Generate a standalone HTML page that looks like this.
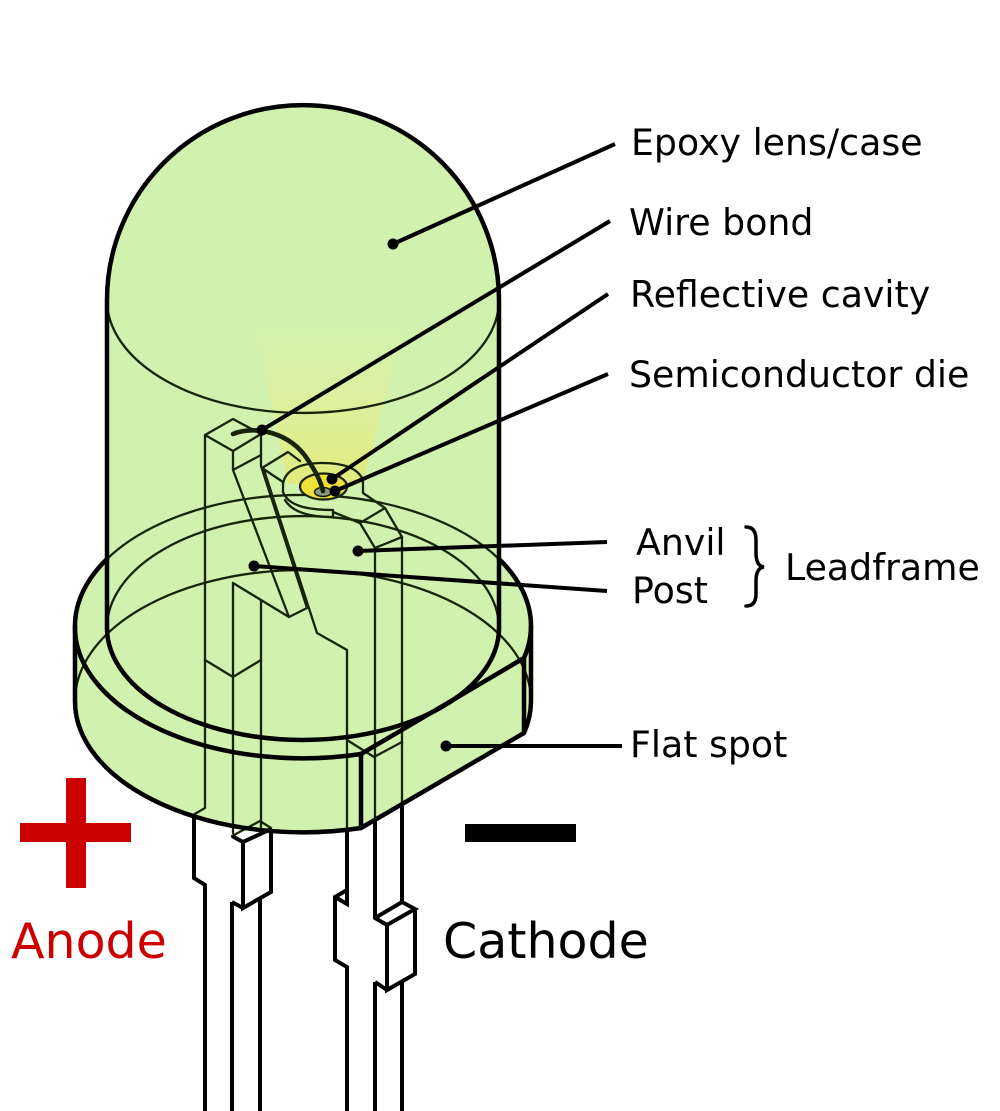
<!DOCTYPE html>
<html>
<head>
<meta charset="utf-8">
<style>
html,body{margin:0;padding:0;background:#fff;}
svg{display:block;}
text{font-family:"DejaVu Sans","Liberation Sans",sans-serif;}
</style>
</head>
<body>
<svg width="1000" height="1111" viewBox="0 0 1000 1111" xmlns="http://www.w3.org/2000/svg">
<defs>
<linearGradient id="glow" x1="0" y1="0" x2="0" y2="1">
<stop offset="0" stop-color="#e8f0a0" stop-opacity="0"/>
<stop offset="0.5" stop-color="#e4ee92" stop-opacity="0.6"/>
<stop offset="1" stop-color="#e2ea78" stop-opacity="0.95"/>
</linearGradient>
</defs>
<rect width="1000" height="1111" fill="#fff"/>

<!-- epoxy body fill -->
<path d="M107,300 A196,195 0 0 1 499,300 L499,559 A228,131 0 0 1 531,626 L531,701 A228,131 0 0 1 524,733 L361,828 A228,131 0 0 1 75,701 L75,626 A228,131 0 0 1 107,559 Z" fill="#d1f2ae"/>

<!-- glow cone -->
<polygon points="255,325 405,325 362,484 288,484" fill="url(#glow)"/>

<!-- thin construction lines -->
<g fill="none" stroke="#16240a" stroke-width="2.3" stroke-linejoin="round" stroke-linecap="round">
  <path d="M107,300 A196,113 0 0 0 499,300"/>
  <path d="M107,628 A196,112 0 0 1 499,628"/>
  <path d="M107,559 A228,131 0 0 1 499,559"/>
  <path d="M75,701 A228,131 0 0 1 531,701"/>

  <!-- post -->
  <path d="M205,435 L233,419 L261,434 L233,451 Z"/>
  <path d="M233,451 L233,470 L261,455 L261,434"/>
  <path d="M233,470 L289,617 L307,608 L261,466 L261,455"/>
  <path d="M205,435 L205,808 L193,815"/>
  <path d="M233,583 L289,617"/>
  <path d="M233,583 L233,833"/>
  <path d="M261,601 L261,827"/>
  <path d="M205,660 L233,677 L261,660"/>
  <path d="M232,836 L260,821 L271,828"/>

  <!-- anvil -->
  <path d="M262,468 L288,452 L300,461"/>
  <path d="M262,468 L283,482 L283,492"/>
  <path d="M264,470 L317,633 L347,650 L347,830"/>
  <path d="M283,484 C285,470 300,463 322,463 C343,463 358,468 363,480 L363,493 L385,508 L402,537 L375,548 L360,523 L385,508"/>
  <path d="M360,523 L333,512"/>
  <path d="M283,492 C288,505 305,510 333,510 L333,517 C310,517 292,512 285,500"/>
  <path d="M375,548 L375,822"/>
  <path d="M402,537 L402,806"/>
  <path d="M347,740 L374,757 L402,742"/>
</g>

<!-- thick outlines -->
<g fill="none" stroke="#000" stroke-width="4.5" stroke-linejoin="round" stroke-linecap="round">
  <path d="M107,628 L107,300 A196,195 0 0 1 499,300 L499,628"/>
  <path d="M107,628 A196,112 0 0 0 499,628"/>
  <path d="M107,559 A228,131 0 0 0 75,626 A228,131 0 0 0 361,754"/>
  <path d="M361,754 L524,658 L524,733 L361,828 Z"/>
  <path d="M499,559 A228,131 0 0 1 531,626 A228,131 0 0 1 524,658"/>
  <path d="M75,626 L75,701 A228,131 0 0 0 361,828"/>
  <path d="M531,626 L531,701 A228,131 0 0 1 524,733"/>
</g>

<!-- leads below the epoxy -->
<g fill="none" stroke="#000" stroke-width="4" stroke-linejoin="miter" stroke-linecap="butt">
  <path d="M194,816 L194,878 L205,885 L205,1111"/>
  <path d="M232,902 L232,1111"/>
  <path d="M260,898 L260,1111"/>
  <path d="M232,902 L243,908"/>
  <path d="M232,836 L243,842 L271,829"/>
  <path d="M243,842 L243,908 L271,892 L271,829"/>
  <path d="M347,829 L347,890 L335,897 L335,960 L347,967 L347,1111"/>
  <path d="M347,890 L347,904 L335,897"/>
  <path d="M375,821 L375,918 L387,925 L415,909 L402,902 L375,918"/>
  <path d="M387,925 L387,990 L415,974 L415,909"/>
  <path d="M375,982 L387,990"/>
  <path d="M375,982 L375,1111"/>
  <path d="M402,981 L402,1111"/>
  <path d="M402,806 L402,902"/>
</g>

<!-- reflective cavity / die -->
<ellipse cx="323.5" cy="486.5" rx="23.5" ry="13" fill="#efe03c" stroke="#16240a" stroke-width="2.2"/>
<ellipse cx="323" cy="492" rx="8.5" ry="4.5" fill="#8c9a84" stroke="#16240a" stroke-width="1.5"/>

<!-- wire bond -->
<path d="M233,434 C255,425 290,432 308,460 C316,472 321,482 323,491" fill="none" stroke="#18240a" stroke-width="4.6" stroke-linecap="round"/>

<!-- leader lines -->
<g stroke="#000" stroke-width="4" stroke-linecap="butt" fill="none">
  <line x1="393" y1="244" x2="615" y2="144"/>
  <line x1="262" y1="430" x2="610" y2="221"/>
  <line x1="332" y1="479" x2="608" y2="294"/>
  <line x1="335" y1="491" x2="608" y2="374"/>
  <line x1="358" y1="551" x2="607" y2="542"/>
  <line x1="254" y1="566" x2="607" y2="591"/>
  <line x1="446" y1="746" x2="622" y2="746"/>
</g>
<g fill="#000">
  <circle cx="393" cy="244" r="5.5"/>
  <circle cx="262" cy="430" r="5.5"/>
  <circle cx="332" cy="479" r="5.5"/>
  <circle cx="335" cy="491" r="5.5"/>
  <circle cx="358" cy="551" r="5.5"/>
  <circle cx="254" cy="566" r="5.5"/>
  <circle cx="446" cy="746" r="5.5"/>
</g>

<!-- brace -->
<path d="M746,527 Q756,527 756,540 L756,553 Q756,566 764,567 Q756,568 756,581 L756,594 Q756,606 746,606" fill="none" stroke="#000" stroke-width="3.5" stroke-linecap="round"/>

<!-- labels -->
<g font-size="36.3" fill="#000">
  <text x="631" y="155">Epoxy lens/case</text>
  <text x="629" y="235">Wire bond</text>
  <text x="630" y="307">Reflective cavity</text>
  <text x="629" y="387">Semiconductor die</text>
  <text x="636" y="555">Anvil</text>
  <text x="632" y="603">Post</text>
  <text x="785" y="580">Leadframe</text>
  <text x="630" y="757">Flat spot</text>
</g>

<!-- polarity -->
<rect x="20" y="823" width="111" height="19" fill="#cc0000"/>
<rect x="66" y="778" width="20" height="110" fill="#cc0000"/>
<rect x="465" y="824" width="111" height="18" fill="#000"/>
<text x="11" y="958" font-size="49" fill="#cc0000">Anode</text>
<text x="443" y="958" font-size="49" fill="#000">Cathode</text>
</svg>
</body>
</html>
